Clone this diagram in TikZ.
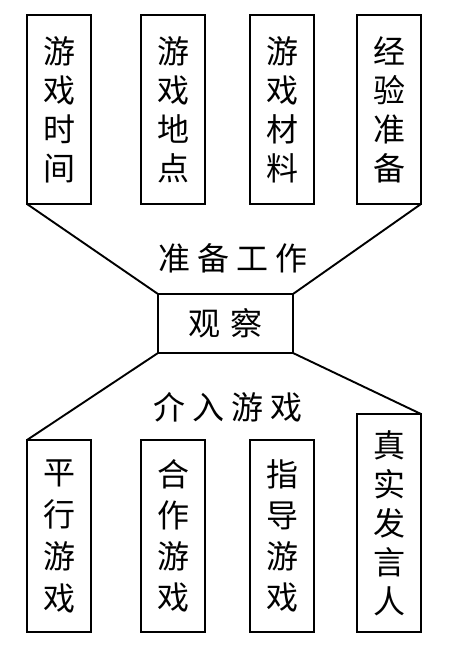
\documentclass[tikz,border=0pt]{standalone}
\usepackage{fontspec}
\newfontfamily\cjk{Noto Sans CJK SC}
\begin{document}
\begin{tikzpicture}[x=1pt,y=-1pt,
  vbox/.style={draw,line width=2.4pt,minimum width=64pt,inner sep=0pt,outer sep=0pt,
    font=\cjk\fontsize{32}{39}\selectfont,align=center},
  obsbox/.style={draw,line width=2.4pt,minimum width=135pt,minimum height=59pt,inner sep=0pt,outer sep=0pt,
    font=\cjk\fontsize{32}{36}\selectfont},
  lbl/.style={font=\cjk\fontsize{32}{36}\selectfont,inner sep=0pt},
  conn/.style={line width=1.9pt}]
\useasboundingbox (0,0) rectangle (455,662);
% top boxes
\node[vbox,minimum height=189pt] (t1) at (59,109.5) {游\\戏\\时\\间};
\node[vbox,minimum height=189pt] (t2) at (173,109.5) {游\\戏\\地\\点};
\node[vbox,minimum height=189pt] (t3) at (282,109.5) {游\\戏\\材\\料};
\node[vbox,minimum height=189pt] (t4) at (389,109.5) {经\\验\\准\\备};
% center
\node[obsbox] (obs) at (225.5,323.5) {观\hspace{10pt}察};
\node[lbl] (prep) at (233,258) {准\hspace{7pt}备\hspace{7pt}工\hspace{7pt}作};
\node[lbl] (play) at (228,407) {介\hspace{7pt}入\hspace{7pt}游\hspace{7pt}戏};
% bottom boxes
\node[vbox,minimum height=192pt,font=\cjk\fontsize{32}{42}\selectfont] (b1) at (59,536) {平\\行\\游\\戏};
\node[vbox,minimum height=192pt,font=\cjk\fontsize{32}{41}\selectfont] (b2) at (173,536) {合\\作\\游\\戏};
\node[vbox,minimum height=192pt,font=\cjk\fontsize{32}{41}\selectfont] (b3) at (282,536) {指\\导\\游\\戏};
\node[vbox,minimum height=218pt] (b4) at (389,523) {真\\实\\发\\言\\人};
% connectors
\draw[conn] (t1.south west) -- (obs.north west);
\draw[conn] (t4.south east) -- (obs.north east);
\draw[conn] (obs.south west) -- (b1.north west);
\draw[conn] (obs.south east) -- (b4.north east);
\end{tikzpicture}
\end{document}
